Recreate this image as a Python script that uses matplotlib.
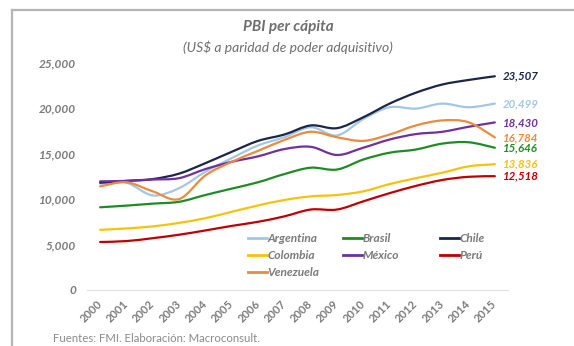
import matplotlib
matplotlib.use("Agg")
import matplotlib.pyplot as plt
from matplotlib.path import Path
from matplotlib.patches import PathPatch
from matplotlib.lines import Line2D
import numpy as np

plt.rcParams['font.family'] = ['Lato', 'DejaVu Sans']

years = [str(y) for y in range(2000, 2016)]

argentina = [11700, 11800, 10400, 11200, 13000, 14500, 15900, 16800, 17900, 17000, 18800, 20100, 19950, 20500, 20100, 20499]
brasil = [9100, 9280, 9500, 9700, 10450, 11150, 11850, 12750, 13450, 13250, 14350, 15100, 15450, 16100, 16250, 15646]
chile = [11800, 12000, 12200, 12800, 13950, 15200, 16400, 17100, 18100, 17800, 19000, 20500, 21700, 22600, 23100, 23507]
colombia = [6620, 6770, 7000, 7380, 7900, 8600, 9300, 9900, 10300, 10450, 10850, 11650, 12300, 12900, 13600, 13836]
mexico = [11950, 12000, 12150, 12300, 13300, 14100, 14700, 15500, 15750, 14850, 15650, 16550, 17150, 17400, 17950, 18430]
peru = [5280, 5380, 5700, 6080, 6550, 7050, 7500, 8100, 8850, 8850, 9750, 10650, 11450, 12100, 12450, 12518]
venezuela = [11400, 11850, 10850, 10000, 12600, 14100, 15300, 16500, 17400, 16800, 16400, 17100, 18100, 18650, 18450, 16784]

series_names = ["Argentina", "Brasil", "Chile", "Colombia", "México", "Perú", "Venezuela"]
series_values = [argentina, brasil, chile, colombia, mexico, peru, venezuela]
series_colors = ["#a3c6e6", "#1e8c24", "#1c2548", "#f7c20c", "#7030a0", "#c00000", "#ec8a3e"]
y_ticks = [0, 5000, 10000, 15000, 20000, 25000]
y_tick_labels = ["0", "5,000", "10,000", "15,000", "20,000", "25,000"]
end_labels = ["20,499", "15,646", "23,507", "13,836", "18,430", "12,518", "16,784"]


def smooth_path(xs, ys):
    pts = np.column_stack([xs, ys]).astype(float)
    n = len(pts)
    verts = [pts[0]]
    codes = [Path.MOVETO]
    for i in range(n - 1):
        p0 = pts[i - 1] if i > 0 else pts[i]
        p1 = pts[i]
        p2 = pts[i + 1]
        p3 = pts[i + 2] if i + 2 < n else pts[i + 1]
        c1 = p1 + (p2 - p0) / 6.0
        c2 = p2 - (p3 - p1) / 6.0
        verts += [c1, c2, p2]
        codes += [Path.CURVE4] * 3
    return Path(verts, codes)


W, H = 574, 346
fig = plt.figure(figsize=(W / 100, H / 100), dpi=100)
fig.patch.set_facecolor("white")

# frame lines (left and top)
fig.add_artist(Line2D([12 / W, 12 / W], [0, 1 - 10 / H], color="#b5b5b5", lw=1.6, transform=fig.transFigure))
fig.add_artist(Line2D([12 / W, 1], [1 - 10 / H, 1 - 10 / H], color="#b5b5b5", lw=1.6, transform=fig.transFigure))

ax_l, ax_r, ax_b, ax_t = 87, 508, 290, 62.7
ax = fig.add_axes([ax_l / W, (H - ax_b) / H, (ax_r - ax_l) / W, (ax_b - ax_t) / H])
x = np.arange(len(years))

for name, vals, col in zip(series_names, series_values, series_colors):
    p = smooth_path(x, vals)
    ax.add_patch(PathPatch(p, fill=False, edgecolor=col, lw=1.6, capstyle="round", joinstyle="round"))

for vals, col, lab in zip(series_values, series_colors, end_labels):
    ax.annotate(lab, xy=(x[-1], vals[-1]), xytext=(6, 0), textcoords="offset points",
                ha="left", va="center", fontsize=8.3, fontweight="bold", fontstyle="italic",
                color=col, annotation_clip=False)

ax.set_xlim(-0.5, len(years) - 0.5)
ax.set_ylim(0, 25000)
ax.set_yticks(y_ticks)
ax.set_yticklabels(y_tick_labels)
ax.set_xticks(x)
ax.set_xticklabels(years, rotation=45, ha="right", va="center", rotation_mode="anchor")
for t in ax.get_xticklabels():
    t.set_fontweight("bold")
for t in ax.get_yticklabels():
    t.set_fontweight("bold")
    t.set_fontstyle("italic")
ax.tick_params(axis="y", length=0, pad=8, labelsize=8.5, labelcolor="#7a7a7a")
ax.tick_params(axis="x", length=0, pad=9, labelsize=8, labelcolor="#7a7a7a")
for s in ["left", "right", "top"]:
    ax.spines[s].set_visible(False)
ax.spines["bottom"].set_color("#e0e0e0")
ax.spines["bottom"].set_linewidth(0.8)
ax.set_facecolor("none")

# legend: three columns placed at fixed positions (row-major like the original)
columns = [[0, 3, 6], [1, 4], [2, 5]]
col_x = [248, 343, 440]
row1_y = 242
legs = []
for cx, idxs in zip(col_x, columns):
    handles = [Line2D([], [], color=series_colors[i], lw=2) for i in idxs]
    labels = [series_names[i] for i in idxs]
    leg = ax.legend(handles, labels, loc="upper left",
                    bbox_to_anchor=((cx - ax_l) / (ax_r - ax_l), (ax_b - row1_y + 9) / (ax_b - ax_t)),
                    frameon=False, fontsize=8.6, handlelength=1.6, handletextpad=0.05,
                    labelspacing=0.5, borderpad=0, borderaxespad=0)
    for t in leg.get_texts():
        t.set_color("#7a7a7a")
        t.set_fontstyle("italic")
        t.set_fontweight("bold")
    legs.append(leg)
for leg in legs[:-1]:
    ax.add_artist(leg)

fig.text(288 / W, 1 - 27.5 / H, "PBI per cápita", ha="center", va="center",
         fontsize=11, fontweight="bold", fontstyle="italic", color="#6e6e6e")
fig.text(288 / W, 1 - 47.5 / H, "(US$ a paridad de poder adquisitivo)", ha="center", va="center",
         fontsize=10, fontstyle="italic", color="#6e6e6e")
fig.text(53 / W, 1 - 338 / H, "Fuentes: FMI. Elaboración: Macroconsult.", ha="left", va="center",
         fontsize=8.2, color="#8a8a8a")

fig.savefig("out.png", dpi=100)
